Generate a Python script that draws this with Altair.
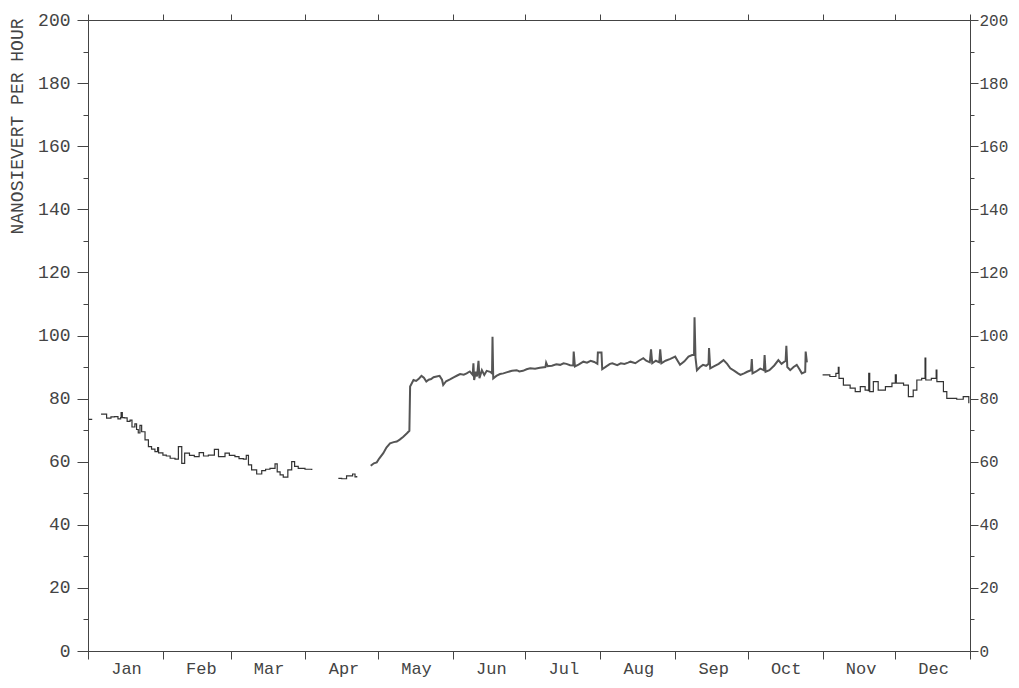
import altair as alt
import pandas as pd

# Month boundaries (day of year) and names
month_starts = [0, 31, 59, 90, 120, 151, 181, 212, 243, 273, 304, 334, 365]
month_names = ["Jan", "Feb", "Mar", "Apr", "May", "Jun", "Jul", "Aug", "Sep", "Oct", "Nov", "Dec"]
y_ticks = list(range(0, 201, 10))

# Segment 0: isolated reading on 1 January
seg0_days = [0.3, 1.5]
seg0_vals = [73.4, 73.6]

# Segment 1: January - March
seg1_days = [5.4, 7.7, 9.5, 11, 12.4, 13.5, 13.7, 14.2, 15, 16.2, 17.4, 18.2, 19.4, 20.1, 20.8, 21.5,
             22.2, 23.6, 25, 26.3, 27.7, 28.8, 29.2, 31, 32.4, 34, 36, 37.2, 37.4, 38.6, 38.8, 40,
             42, 44, 46, 47.8, 49.8, 52.1, 52.3, 53.6, 54, 56.7, 58.5, 60.8, 62.5, 64.3, 65.5, 66.4,
             67.7, 69.8, 71.9, 73.5, 75.3, 77.4, 78.3, 79.5, 80.8, 82.7, 84.3, 85.5, 87, 89.8, 92.6]
seg1_vals = [75.1, 73.8, 74.2, 74.3, 73.6, 74.0, 75.6, 74.0, 73.9, 72.8, 73.2, 71.0, 72.0, 70.2, 69.1,
             71.5, 69.5, 66.9, 64.8, 64.0, 63.2, 64.5, 62.8, 62.1, 61.8, 61.1, 60.8, 60.8, 64.8, 64.8,
             59.5, 62.7, 62.0, 61.6, 62.9, 61.8, 62.1, 62.1, 63.9, 63.9, 61.6, 62.7, 62.0, 61.6, 61.0,
             60.8, 62.0, 59.0, 57.4, 56.1, 57.2, 57.6, 57.9, 59.3, 56.8, 55.8, 55.1, 57.4, 60.0, 58.5,
             57.9, 57.6, 57.4]

# Segment 2: April fragment
seg2_days = [103.6, 105, 107, 109.5, 110.5, 111.2]
seg2_vals = [54.7, 54.6, 55.5, 56.1, 55.2, 55.5]

# Segment 3: late April - October
seg3_days = [117, 118.3, 119.5, 120.5, 122.2, 123.5, 125, 126.5, 127.8, 129, 130.5, 132, 133, 133.3,
             134.7, 135.8, 137, 138, 139, 140, 141, 142, 143, 144.3, 145.5, 146.5, 147, 148.2, 149.8,
             151.5, 153, 154, 155.5, 156.7, 158, 159.2, 159.5, 159.8, 160.5, 161, 161.6, 162, 163,
             164, 165, 166.4, 167.2, 167.4, 167.7, 169, 170.5, 171.9, 173.5, 175.5, 177.4, 178.5,
             180, 181.5, 183, 185, 187, 189.3, 189.6, 190.2, 192, 193.8, 195.4, 196.8, 198, 199.5,
             200.8, 201, 201.5, 203, 205, 206.5, 208, 209.5, 210.8, 211, 212.5, 212.8, 214.5, 216,
             217, 219, 220.5, 222, 223.5, 224.5, 226.5, 228, 229.8, 231, 232.5, 233, 233.5, 235,
             236.4, 236.8, 237.3, 239, 241, 243, 244, 245, 246.8, 248.5, 250, 250.8, 251, 251.4,
             252, 253.3, 254.5, 255.8, 256.8, 257, 257.5, 259, 261, 263, 264.5, 265.8, 267.5, 269,
             270, 271.5, 272.8, 274.4, 274.7, 275, 276.5, 278.2, 279.7, 280, 280.4, 282, 284, 285.7,
             287, 288.7, 289, 289.4, 290.6, 292, 293.3, 294.5, 295.4, 296.8, 297.0, 297.5]
seg3_vals = [58.7, 59.5, 59.8, 61.0, 62.7, 64.5, 65.8, 66.2, 66.4, 67.0, 67.9, 69.0, 69.8, 83.8,
             85.9, 85.6, 86.4, 87.2, 86.6, 85.4, 86.0, 86.2, 86.8, 87.0, 87.2, 86.0, 84.3, 85.5, 86.1,
             86.8, 87.4, 87.8, 87.6, 88.0, 88.6, 87.5, 91.2, 85.9, 88.5, 87.0, 92.0, 86.5, 89.0,
             87.5, 88.8, 88.5, 88.0, 99.6, 86.4, 87.2, 87.8, 88.0, 88.4, 88.8, 89.0, 88.6,
             88.8, 89.3, 89.6, 89.5, 89.8, 90.0, 91.4, 90.3, 90.4, 90.9, 90.7, 91.2, 91.0, 90.6,
             90.5, 94.9, 90.2, 90.8, 91.7, 91.4, 92.0, 91.6, 91.0, 94.6, 94.6, 89.3, 90.2, 91.0,
             91.2, 90.6, 91.2, 91.0, 91.4, 91.7, 91.2, 92.0, 92.8, 92.0, 91.5, 95.6, 91.2, 92.0,
             91.5, 95.6, 91.2, 92.0, 92.6, 93.3, 92.0, 90.7, 91.8, 93.3, 93.8, 93.8, 105.8, 93.0,
             89.0, 90.0, 90.7, 90.4, 91.0, 96.0, 89.6, 90.2, 91.0, 92.2, 91.0, 89.6, 88.8, 88.0,
             87.5, 88.0, 88.5, 89.0, 92.5, 88.0, 88.6, 89.5, 89.0, 93.8, 88.5, 89.0, 90.5, 92.2,
             91.0, 92.0, 96.7, 90.0, 89.0, 90.0, 90.7, 89.2, 88.0, 88.5, 94.9, 91.5]

# Segment 4: November - December
seg4_days = [304, 307, 309.5, 310.3, 310.5, 310.8, 312.6, 315.4, 317.5, 319.6, 321.6, 322.9, 323.1,
             323.5, 325, 327, 330, 332.7, 333.9, 334.1, 334.5, 335.4, 337.5, 339.5, 341.5, 343, 345,
             346.2, 346.4, 346.7, 349, 350.8, 351, 351.3, 354, 355.4, 359.5, 362.2, 364.5]
seg4_vals = [87.5, 87.0, 88.0, 88.0, 89.9, 86.4, 84.3, 83.3, 82.2, 83.8, 82.7, 82.5, 88.0, 82.2, 85.4,
             82.7, 83.8, 84.9, 84.9, 87.5, 84.9, 84.9, 84.3, 80.6, 82.7, 85.9, 86.4, 86.4, 92.8, 85.9,
             86.4, 86.4, 89.0, 85.4, 82.2, 80.1, 79.8, 80.6, 78.5]

thin_segments = [("s0", seg0_days, seg0_vals), ("s1", seg1_days, seg1_vals),
                 ("s2", seg2_days, seg2_vals), ("s4", seg4_days, seg4_vals)]
thick_segments = [("s3", seg3_days, seg3_vals)]


def build(segs):
    rows = []
    i = 0
    for name, ds, vs in segs:
        for d, v in zip(ds, vs):
            rows.append({"seg": name, "day": d, "val": v, "idx": i})
            i += 1
    return pd.DataFrame(rows)


df_thin = build(thin_segments)
df_thick = build(thick_segments)

FONT = "Liberation Mono"
GRAY = "#444444"

xscale = alt.Scale(domain=[0, 365], nice=False, zero=False)
yscale = alt.Scale(domain=[0, 200], nice=False)

month_label_expr = ("[" + ",".join("'%s'" % m for m in month_names) + ",''][indexof("
                    + str(month_starts) + ", datum.value)]")
ymajor_test = "datum.value % 20 === 0"

thin = alt.Chart(df_thin).mark_line(interpolate="step-after", color="#333333", strokeWidth=1.2).encode(
    x=alt.X("day:Q", scale=xscale,
            axis=alt.Axis(values=month_starts, orient="bottom", title=None,
                          labelExpr=month_label_expr, labelOffset=38, tickSize=8,
                          labelBaseline="top", labelPadding=1, grid=False,
                          labelFont=FONT, labelFontSize=17,
                          labelColor=GRAY, domainColor=GRAY, tickColor=GRAY,
                          labelAlign="center", labelFlush=False, labelOverlap=False)),
    y=alt.Y("val:Q", scale=yscale,
            axis=alt.Axis(values=y_ticks, orient="left",
                          title="NANOSIEVERT PER HOUR", titleFont=FONT, titleFontSize=18,
                          titleFontWeight="normal", titleColor=GRAY, titleAngle=-90,
                          titleX=-71, titleY=-2, titleAlign="right", titleBaseline="middle",
                          labelExpr="%s ? datum.label : ''" % ymajor_test,
                          tickSize={"condition": {"test": ymajor_test, "value": 11}, "value": 5},
                          labelPadding=7, grid=False, labelFont=FONT, labelFontSize=18,
                          labelColor=GRAY, domainColor=GRAY, tickColor=GRAY)),
    detail="seg:N",
    order="idx:Q",
)

thick = alt.Chart(df_thick).mark_line(interpolate="linear", color="#555555", strokeWidth=2.0).encode(
    x=alt.X("day:Q", scale=xscale, axis=None),
    y=alt.Y("val:Q", scale=yscale, axis=None),
    detail="seg:N",
    order="idx:Q",
)

mirror = alt.Chart(df_thin).mark_line(opacity=0).encode(
    x=alt.X("day:Q", scale=xscale,
            axis=alt.Axis(values=month_starts, orient="top", title=None, labels=False,
                          tickSize=6, grid=False, domainColor=GRAY, tickColor=GRAY)),
    y=alt.Y("val:Q", scale=yscale,
            axis=alt.Axis(values=y_ticks, orient="right", title=None,
                          labelExpr="%s ? datum.label : ''" % ymajor_test,
                          tickSize={"condition": {"test": ymajor_test, "value": 8}, "value": 4},
                          labelPadding=1, grid=False, labelFont=FONT, labelFontSize=16,
                          labelColor=GRAY, domainColor=GRAY, tickColor=GRAY)),
    detail="seg:N",
    order="idx:Q",
)

chart = alt.layer(thin, thick, mirror).resolve_scale(
    x="shared", y="shared"
).resolve_axis(
    x="independent", y="independent"
).properties(
    width=882, height=631,
    autosize=alt.AutoSizeParams(type="none"),
    padding={"left": 80, "top": 12, "right": 41, "bottom": 29},
    background="white",
).configure_view(stroke=GRAY, strokeWidth=1)

chart.save("out.html", embed_options={"renderer": "svg", "actions": False})
